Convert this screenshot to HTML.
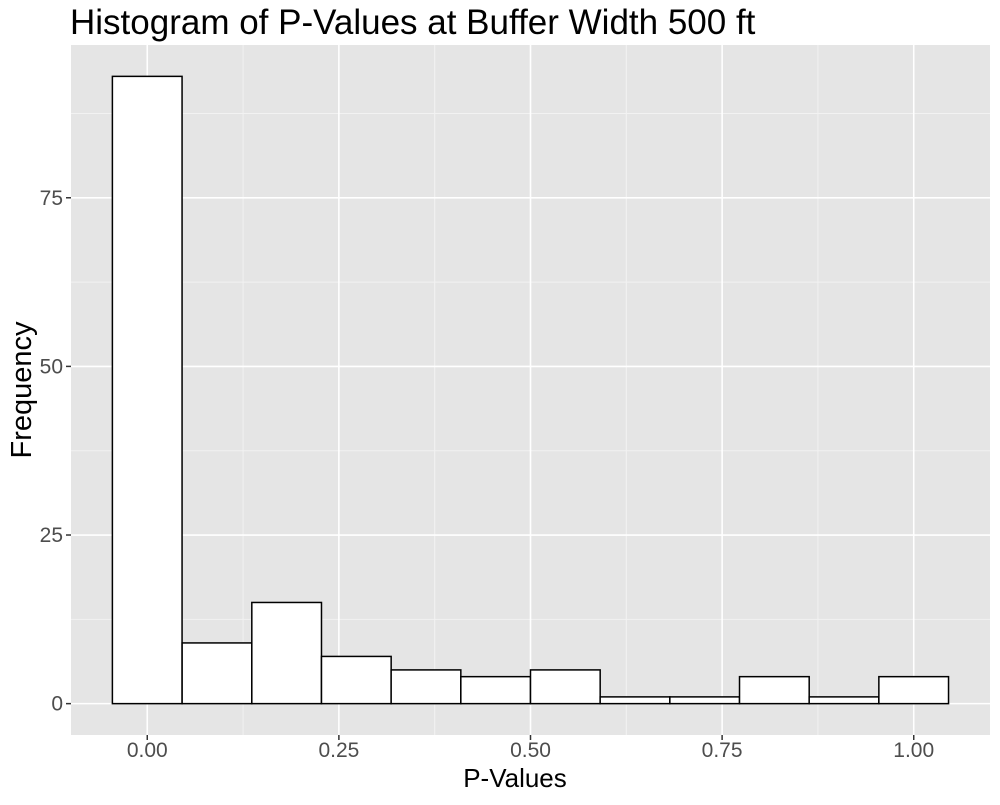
<!DOCTYPE html>
<html><head><meta charset="utf-8"><style>
body{margin:0;background:#fff;}
svg text{font-family:"Liberation Sans",Arial,sans-serif;}
</style></head><body>
<svg id="chart" width="1000" height="800" xmlns="http://www.w3.org/2000/svg">
<text x="70" y="34" font-size="35" fill="#000">Histogram of P-Values at Buffer Width 500 ft</text>
<rect x="71" y="45" width="919" height="690" fill="#e5e5e5"/>
<g id="grid"></g>
<g id="bars"></g>
<g id="axes"></g>
<text x="515" y="787" font-size="26" text-anchor="middle" fill="#000">P-Values</text>
<text transform="translate(31,390) rotate(-90)" font-size="29" text-anchor="middle" fill="#000">Frequency</text>
</svg>
<script>
const binStarts = [-0.0455,0.0455,0.1364,0.2273,0.3182,0.4091,0.5,0.5909,0.6818,0.7727,0.8636,0.9545];
const binWidth = 0.0909;
const counts = [93,9,15,7,5,4,5,1,1,4,1,4];
const xTicks = [0,0.25,0.5,0.75,1];
const xTickLabels = ["0.00","0.25","0.50","0.75","1.00"];
const yTicks = [0,25,50,75];
const yTickLabels = ["0","25","50","75"];
const xMin=-0.0995,xMax=1.0995,yMin=-4.65,yMax=97.65;
const L=71,R=990,T=45,B=735;
const sx=v=>L+(v-xMin)/(xMax-xMin)*(R-L);
const sy=v=>B-(v-yMin)/(yMax-yMin)*(B-T);
const NS="http://www.w3.org/2000/svg";
function mk(tag,attrs,parent){const e=document.createElementNS(NS,tag);for(const k in attrs)e.setAttribute(k,attrs[k]);parent.appendChild(e);return e;}
const grid=document.getElementById('grid'),bars=document.getElementById('bars'),axes=document.getElementById('axes');
for(let i=0;i<xTicks.length-1;i++){const v=(xTicks[i]+xTicks[i+1])/2;
 const l=mk('line',{x1:sx(v),x2:sx(v),y1:T,y2:B,stroke:'#f2f2f2','stroke-width':1},grid);
 
 }
for(let i=0;i<yTicks.length;i++){const v=yTicks[i]+12.5;
 const l=mk('line',{x1:L,x2:R,y1:sy(v),y2:sy(v),stroke:'#f2f2f2','stroke-width':1},grid);
 
 }
xTicks.forEach((v,i)=>{
 const l=mk('line',{x1:sx(v),x2:sx(v),y1:T,y2:B,stroke:'#fff','stroke-width':1.6},grid);
 
 
 const t=mk('line',{x1:sx(v),x2:sx(v),y1:B,y2:B+5,stroke:'#333','stroke-width':1.5},axes);
 
 
 const tx=mk('text',{x:sx(v),y:B+22,'font-size':21,'text-anchor':'middle',fill:'#4d4d4d'},axes);
 tx.textContent=xTickLabels[i];
 
 
});
yTicks.forEach((v,i)=>{
 const l=mk('line',{x1:L,x2:R,y1:sy(v),y2:sy(v),stroke:'#fff','stroke-width':1.6},grid);
 
 
 const t=mk('line',{x1:L-5,x2:L,y1:sy(v),y2:sy(v),stroke:'#333','stroke-width':1.5},axes);
 
 
 const tx=mk('text',{x:L-8,y:sy(v)+7,'font-size':21,'text-anchor':'end',fill:'#4d4d4d'},axes);
 tx.textContent=yTickLabels[i];
 
 
});
counts.forEach((c,i)=>{
 const x0=sx(binStarts[i]),x1=sx(binStarts[i]+binWidth);
 const r=mk('rect',{x:x0,y:sy(c),width:x1-x0,height:sy(0)-sy(c),fill:'#fff',stroke:'#000','stroke-width':1.5},bars);
 
 
});
</script>
</body></html>
